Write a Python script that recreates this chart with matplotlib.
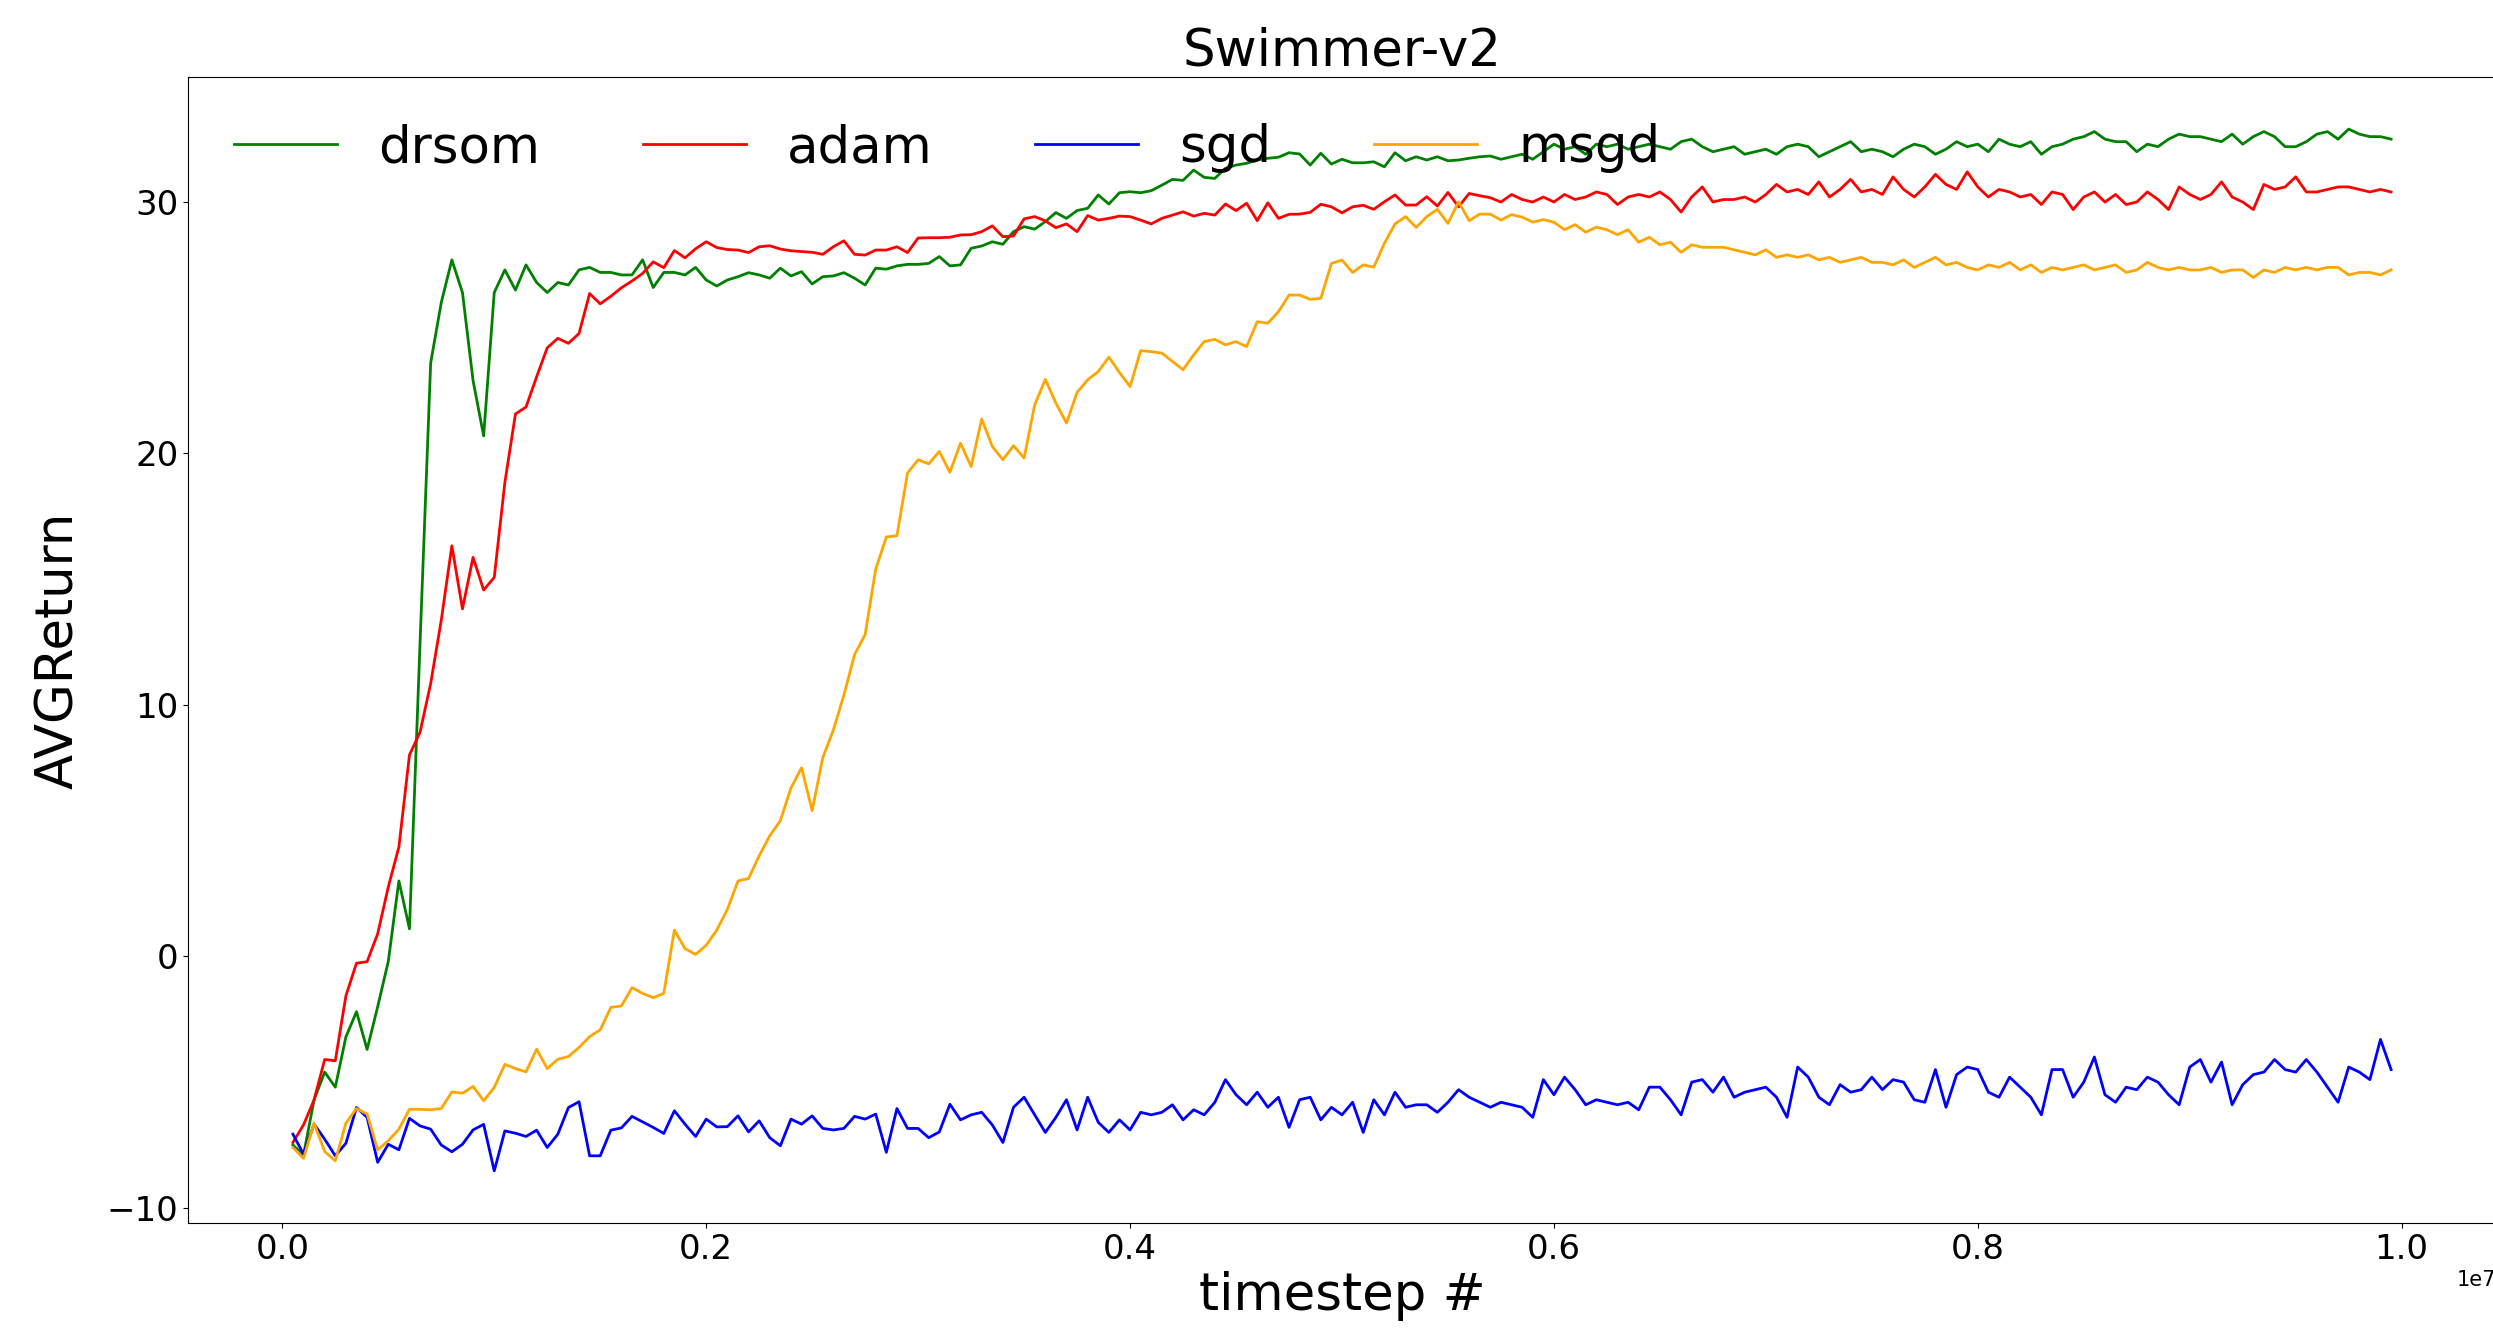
import numpy as np
import matplotlib
matplotlib.use("Agg")
import matplotlib.pyplot as plt

# timesteps: every 50,000 steps
timesteps = [50000 * i for i in range(1, 200)]

drsom = [
    -7.5, -7.9, -5.7, -4.6, -5.2, -3.2, -2.2, -3.7, -2.0, -0.2,
    3.0, 1.1, 12.5, 23.6, 26.0, 27.7, 26.4, 22.9, 20.7, 26.4,
    27.3, 26.5, 27.5, 26.8, 26.4, 26.8, 26.7, 27.3, 27.4, 27.2,
    27.2, 27.1, 27.1, 27.7, 26.6, 27.2, 27.2, 27.1, 27.4, 26.9,
    26.66, 26.9, 27.03, 27.19, 27.1, 26.97, 27.37, 27.06, 27.23, 26.74,
    27.03, 27.06, 27.19, 26.97, 26.7, 27.37, 27.33, 27.46, 27.52, 27.52,
    27.56, 27.83, 27.46, 27.5, 28.16, 28.25, 28.42, 28.32, 28.82, 29.02,
    28.92, 29.22, 29.58, 29.35, 29.66, 29.75, 30.28, 29.92, 30.37, 30.41,
    30.37, 30.45, 30.67, 30.9, 30.86, 31.27, 30.98, 30.94, 31.34, 31.47,
    31.54, 31.67, 31.74, 31.78, 31.96, 31.91, 31.47, 31.94, 31.51, 31.7,
    31.56, 31.56, 31.6, 31.4, 31.96, 31.64, 31.8, 31.67, 31.8, 31.64,
    31.67, 31.74, 31.8, 31.83, 31.7, 31.8, 31.9, 31.7, 32.0,
    32.3, 32.1, 32.2, 31.9, 32.3, 32.2, 32.3, 32.1, 32.2, 32.3,
    32.2, 32.1, 32.4, 32.5, 32.2, 32.0, 32.1, 32.2, 31.9, 32.0,
    32.1, 31.9, 32.2, 32.3, 32.2, 31.8, 32.0, 32.2, 32.4, 32.0,
    32.1, 32.0, 31.8, 32.1, 32.3, 32.2, 31.9, 32.1, 32.4, 32.2,
    32.3, 32.0, 32.5, 32.3, 32.2, 32.4, 31.9, 32.2, 32.3, 32.5,
    32.6, 32.8, 32.5, 32.4, 32.4, 32.0, 32.3, 32.2, 32.5, 32.7,
    32.6, 32.6, 32.5, 32.4, 32.7, 32.3, 32.6, 32.8, 32.6, 32.2,
    32.2, 32.4, 32.7, 32.8, 32.5, 32.9, 32.7, 32.6, 32.6, 32.5,
]

adam = [
    -7.4, -6.7, -5.7, -4.1, -4.15, -1.57, -0.27, -0.21, 0.9, 2.76,
    4.35, 8.01, 8.92, 10.85, 13.37, 16.33, 13.82, 15.87, 14.57, 15.07,
    18.84, 21.57, 21.85, 23.05, 24.2, 24.58, 24.38, 24.77, 26.36, 25.95,
    26.25, 26.59, 26.86, 27.16, 27.62, 27.39, 28.07, 27.78, 28.14, 28.42,
    28.19, 28.11, 28.09, 27.99, 28.22, 28.26, 28.13, 28.06, 28.03, 28.0,
    27.92, 28.22, 28.46, 27.92, 27.89, 28.09, 28.09, 28.22, 27.99, 28.57,
    28.58, 28.58, 28.6, 28.69, 28.7, 28.82, 29.05, 28.62, 28.65, 29.33,
    29.42, 29.25, 28.98, 29.13, 28.82, 29.46, 29.28, 29.35, 29.44, 29.42,
    29.28, 29.13, 29.35, 29.48, 29.61, 29.44, 29.55, 29.48, 29.92, 29.66,
    29.95, 29.26, 29.97, 29.35, 29.51, 29.52, 29.59, 29.91, 29.81, 29.57,
    29.81, 29.87, 29.71, 30.01, 30.28, 29.88, 29.88, 30.21, 29.84, 30.38,
    29.81, 30.34, 30.25, 30.17, 30.0, 30.3, 30.1, 30.0, 30.2,
    30.0, 30.3, 30.1, 30.2, 30.4, 30.3, 29.9, 30.2, 30.3, 30.2,
    30.4, 30.1, 29.6, 30.2, 30.6, 30.0, 30.1, 30.1, 30.2, 30.0,
    30.3, 30.7, 30.4, 30.5, 30.3, 30.8, 30.2, 30.5, 30.9, 30.4,
    30.5, 30.3, 31.0, 30.5, 30.2, 30.6, 31.1, 30.7, 30.5, 31.2,
    30.6, 30.2, 30.5, 30.4, 30.2, 30.3, 29.9, 30.4, 30.3, 29.7,
    30.2, 30.4, 30.0, 30.3, 29.9, 30.0, 30.4, 30.1, 29.7, 30.6,
    30.3, 30.1, 30.3, 30.8, 30.2, 30.0, 29.7, 30.7, 30.5, 30.6,
    31.0, 30.4, 30.4, 30.5, 30.6, 30.6, 30.5, 30.4, 30.5, 30.4,
]

sgd = [
    -7.07, -7.86, -6.67, -7.27, -7.93, -7.43, -6.01, -6.4, -8.19, -7.47,
    -7.69, -6.44, -6.74, -6.87, -7.5, -7.77, -7.47, -6.9, -6.68, -8.53,
    -6.94, -7.03, -7.16, -6.91, -7.6, -7.07, -6.01, -5.78, -7.93, -7.93,
    -6.91, -6.82, -6.36, -6.58, -6.8, -7.04, -6.14, -6.67, -7.16, -6.47,
    -6.78, -6.77, -6.34, -6.98, -6.54, -7.21, -7.53, -6.47, -6.67, -6.34,
    -6.84, -6.9, -6.84, -6.36, -6.47, -6.27, -7.79, -6.05, -6.84, -6.84,
    -7.21, -6.98, -5.88, -6.5, -6.3, -6.2, -6.7, -7.4, -6.0,
    -5.6, -6.3, -7.0, -6.4, -5.7, -6.9, -5.6, -6.6, -7.0, -6.5,
    -6.9, -6.2, -6.3, -6.2, -5.9, -6.5, -6.1, -6.3, -5.8, -4.9,
    -5.5, -5.9, -5.4, -6.0, -5.6, -6.8, -5.7, -5.6, -6.5, -6.0,
    -6.3, -5.8, -7.0, -5.7, -6.3, -5.4, -6.0, -5.9, -5.9, -6.2,
    -5.8, -5.3, -5.6, -5.8, -6.0, -5.8, -5.9, -6.0, -6.4, -4.9,
    -5.5, -4.8, -5.3, -5.9, -5.7, -5.8, -5.9, -5.8, -6.1, -5.2,
    -5.2, -5.7, -6.3, -5.0, -4.9, -5.4, -4.8, -5.6, -5.4, -5.3,
    -5.2, -5.6, -6.4, -4.4, -4.8, -5.6, -5.9, -5.1, -5.4, -5.3,
    -4.8, -5.3, -4.9, -5.0, -5.7, -5.8, -4.5, -6.0, -4.7, -4.4,
    -4.5, -5.4, -5.6, -4.8, -5.2, -5.6, -6.3, -4.5, -4.5, -5.6,
    -5.0, -4.0, -5.5, -5.8, -5.2, -5.3, -4.8, -5.0, -5.5, -5.9,
    -4.4, -4.1, -5.0, -4.2, -5.9, -5.1, -4.7, -4.6, -4.1, -4.5,
    -4.6, -4.1, -4.6, -5.2, -5.8, -4.4, -4.6, -4.9, -3.3, -4.5,
]

msgd = [
    -7.6, -8.03, -6.63, -7.76, -8.13, -6.63, -6.05, -6.27, -7.69, -7.33,
    -6.87, -6.08, -6.08, -6.1, -6.05, -5.39, -5.44, -5.17, -5.74, -5.21,
    -4.29, -4.46, -4.59, -3.69, -4.46, -4.09, -3.98, -3.62, -3.19, -2.92,
    -2.03, -1.97, -1.24, -1.47, -1.64, -1.47, 1.05, 0.31, 0.08, 0.44,
    1.05, 1.87, 3.0, 3.1, 4.0, 4.8, 5.4, 6.7, 7.5, 5.8,
    7.9, 9.0, 10.4, 12.0, 12.8, 15.4, 16.68, 16.73, 19.22, 19.75,
    19.59, 20.08, 19.25, 20.41, 19.48, 21.37, 20.28, 19.75, 20.31, 19.82,
    21.93, 22.95, 22.0, 21.21, 22.43, 22.93, 23.26, 23.83, 23.22, 22.66,
    24.09, 24.05, 23.99, 23.66, 23.33, 23.92, 24.45, 24.54, 24.32, 24.45,
    24.25, 25.24, 25.18, 25.64, 26.3, 26.3, 26.13, 26.17, 27.56, 27.69,
    27.2, 27.5, 27.41, 28.36, 29.13, 29.42, 28.99, 29.42, 29.71, 29.15,
    30.01, 29.26, 29.52, 29.52, 29.28, 29.5, 29.4, 29.2, 29.3,
    29.2, 28.9, 29.1, 28.8, 29.0, 28.9, 28.7, 28.9, 28.4, 28.6,
    28.3, 28.4, 28.0, 28.3, 28.2, 28.2, 28.2, 28.1, 28.0, 27.9,
    28.1, 27.8, 27.9, 27.8, 27.9, 27.7, 27.8, 27.6, 27.7, 27.8,
    27.6, 27.6, 27.5, 27.7, 27.4, 27.6, 27.8, 27.5, 27.6, 27.4,
    27.3, 27.5, 27.4, 27.6, 27.3, 27.5, 27.2, 27.4, 27.3, 27.4,
    27.5, 27.3, 27.4, 27.5, 27.2, 27.3, 27.6, 27.4, 27.3, 27.4,
    27.3, 27.3, 27.4, 27.2, 27.3, 27.3, 27.0, 27.3, 27.2, 27.4,
    27.3, 27.4, 27.3, 27.4, 27.4, 27.1, 27.2, 27.2, 27.1, 27.3,
]

labels = ["drsom", "adam", "sgd", "msgd"]
colors = ["green", "red", "blue", "orange"]
series = [drsom, adam, sgd, msgd]

W, H, DPI = 2493, 1335, 100
fig = plt.figure(figsize=(W / DPI, H / DPI), dpi=DPI)
left, right, bottom, top = 188 / W, 2496 / W, 1 - 1223 / H, 1 - 77 / H
ax = fig.add_axes([left, bottom, right - left, top - bottom])

for lab, col, ys in zip(labels, colors, series):
    ax.plot(timesteps, ys, color=col, linewidth=2, label=lab)

ax.set_title("Swimmer-v2", fontsize=37)
ax.set_xlabel("timestep #", fontsize=37)
ax.set_ylabel("AVGReturn", fontsize=37, labelpad=16)
ax.tick_params(axis="both", labelsize=24.5)
ax.xaxis.get_offset_text().set_fontsize(15)
ax.legend(loc="upper left", ncol=4, frameon=False, fontsize=37)

fig.savefig("out.png", dpi=DPI)
